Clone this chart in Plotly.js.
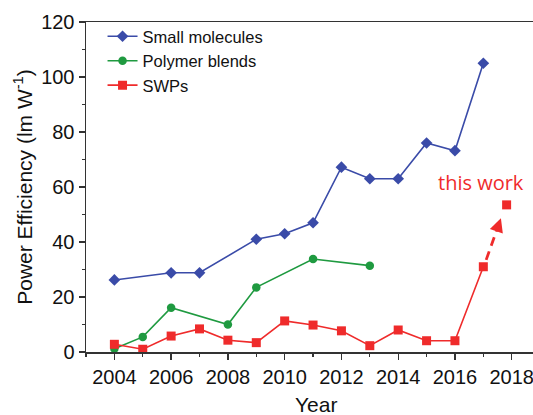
<!DOCTYPE html>
<html>
<head>
<meta charset="utf-8">
<script src="https://cdn.plot.ly/plotly-3.0.1.min.js"></script>
<style>html,body{margin:0;padding:0;background:#fff;}#chart{width:533px;height:415px;}</style>
</head>
<body>
<div id="chart"></div>
<script>
// ---- data ----
const smallYears = [2004, 2006, 2007, 2009, 2010, 2011, 2012, 2013, 2014, 2015, 2016, 2017];
const smallValues = [26.2, 28.8, 28.8, 41, 43, 47, 67.2, 63, 63, 76, 73.2, 105];

const polymerYears = [2004, 2005, 2006, 2008, 2009, 2011, 2013];
const polymerValues = [1.2, 5.5, 16.1, 10, 23.5, 33.8, 31.4];

const swpYears = [2004, 2005, 2006, 2007, 2008, 2009, 2010, 2011, 2012, 2013, 2014, 2015, 2016, 2017];
const swpValues = [2.8, 1, 5.8, 8.4, 4.3, 3.4, 11.3, 9.8, 7.7, 2.3, 8, 4.1, 4.1, 31];

const thisWorkYear = [2017.82];
const thisWorkValue = [53.5];
const thisWorkLabel = "this work";
const thisWorkLabelPos = {x: 2016.92, y: 61.6};

const arrowX = [2017.1, 2017.62];
const arrowY = [33.5, 48.6];

const xTickVals = [2004, 2006, 2008, 2010, 2012, 2014, 2016, 2018];
const yTickVals = [0, 20, 40, 60, 80, 100, 120];

// ---- styles ----
const BLUE = '#3a4ba8';
const GREEN = '#1f9a40';
const RED = '#ef2b2b';
const AXIS = '#333333';
const FONT = 'Liberation Sans, Arial, sans-serif';

// arrowhead direction point (slightly back along the arrow)
const headBackX = arrowX[1] - (arrowX[1] - arrowX[0]) * 0.12;
const headBackY = arrowY[1] - (arrowY[1] - arrowY[0]) * 0.12;

const traces = [
  {x: smallYears, y: smallValues, name: 'Small molecules', mode: 'lines+markers',
   line: {color: BLUE, width: 1.6}, marker: {symbol: 'diamond', size: 9, color: BLUE}, cliponaxis: false},
  {x: polymerYears, y: polymerValues, name: 'Polymer blends', mode: 'lines+markers',
   line: {color: GREEN, width: 1.6}, marker: {symbol: 'circle', size: 8.5, color: GREEN}, cliponaxis: false},
  {x: swpYears, y: swpValues, name: 'SWPs', mode: 'lines+markers',
   line: {color: RED, width: 1.6}, marker: {symbol: 'square', size: 9, color: RED}, cliponaxis: false},
  {x: arrowX, y: arrowY, mode: 'lines', showlegend: false, hoverinfo: 'skip',
   line: {color: RED, width: 2.8, dash: '9px,6px'}, cliponaxis: false},
  {x: thisWorkYear, y: thisWorkValue, mode: 'markers', showlegend: false,
   marker: {symbol: 'square', size: 9, color: RED}, cliponaxis: false}
];

const layout = {
  width: 533, height: 415,
  margin: {l: 86, r: 0, t: 22, b: 63},
  paper_bgcolor: '#fff', plot_bgcolor: '#fff',
  showlegend: true,
  legend: {x: 0.037, y: 1.009, xanchor: 'left', yanchor: 'top', bgcolor: 'rgba(0,0,0,0)',
           font: {family: FONT, size: 16.5, color: '#111'}, tracegroupgap: 0},
  xaxis: {
    range: [2003, 2018.75], tickvals: xTickVals, ticktext: xTickVals.map(String),
    showgrid: false, zeroline: false, showline: true, linecolor: AXIS, linewidth: 1.5,
    mirror: true, ticks: 'outside', ticklen: 6, tickwidth: 1.3, tickcolor: AXIS,
    ticklabeloverflow: 'allow',
    minor: {dtick: 1, tick0: 2003, ticks: 'outside', ticklen: 3, tickwidth: 1.3, tickcolor: AXIS, showgrid: false},
    tickfont: {family: FONT, size: 20, color: '#111'}
  },
  yaxis: {
    range: [0, 120], tickvals: yTickVals, ticktext: yTickVals.map(String),
    showgrid: false, zeroline: false, showline: true, linecolor: AXIS, linewidth: 1.5,
    ticks: 'outside', ticklen: 6, tickwidth: 1.3, tickcolor: AXIS,
    minor: {dtick: 10, tick0: 0, ticks: 'outside', ticklen: 3, tickwidth: 1.3, tickcolor: AXIS, showgrid: false},
    tickfont: {family: FONT, size: 20, color: '#111'},
    title: {text: 'Power Efficiency (lm W<sup>-1</sup>)', font: {family: FONT, size: 21, color: '#111'}, standoff: 3}
  },
  annotations: [
    {x: thisWorkLabelPos.x, y: thisWorkLabelPos.y, xref: 'x', yref: 'y', text: thisWorkLabel, showarrow: false,
     font: {family: 'Open Sans, sans-serif', size: 20, color: RED}},
    {x: arrowX[1], y: arrowY[1], ax: headBackX, ay: headBackY, xref: 'x', yref: 'y', axref: 'x', ayref: 'y',
     text: '', showarrow: true, arrowhead: 2, arrowsize: 1.1, arrowwidth: 2.5, arrowcolor: RED, standoff: 0},
    {x: 0.515, y: -0.16, xref: 'paper', yref: 'paper', text: 'Year', showarrow: false,
     xanchor: 'center', yanchor: 'middle', font: {family: FONT, size: 21, color: '#111'}}
  ]
};

Plotly.newPlot('chart', traces, layout, {displayModeBar: false, staticPlot: true});
</script>
</body>
</html>
